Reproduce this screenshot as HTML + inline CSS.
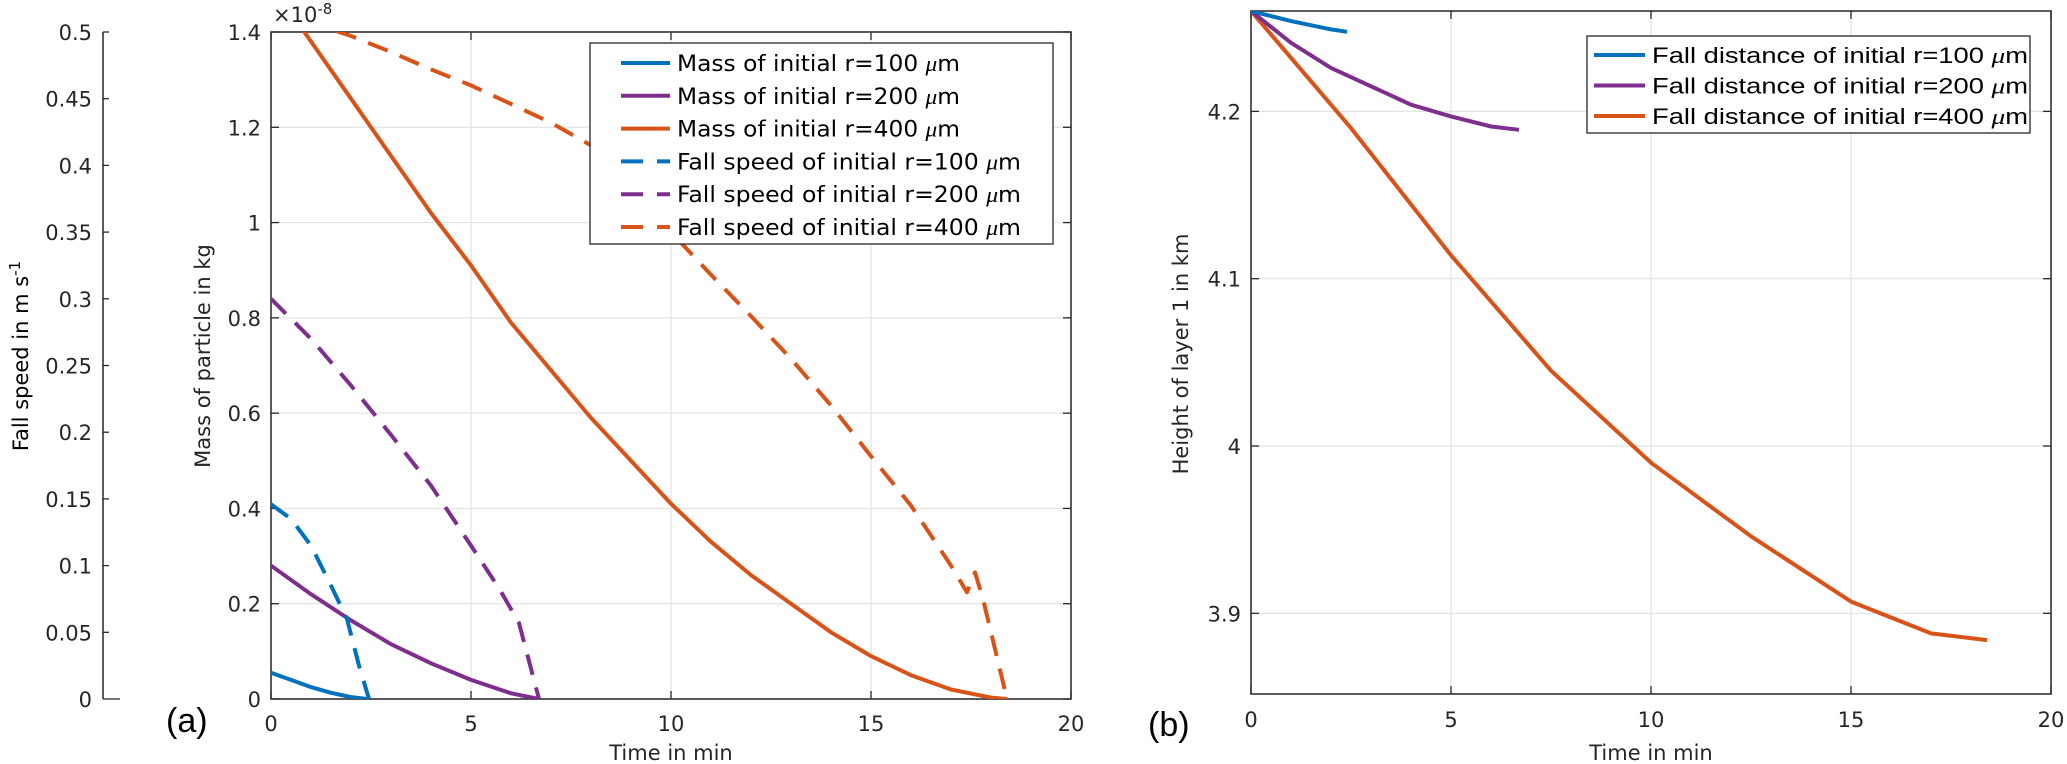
<!DOCTYPE html>
<html><head><meta charset="utf-8"><style>
html,body{margin:0;padding:0;background:#fff;}
svg{display:block;font-family:"DejaVu Sans","Liberation Sans",sans-serif;}
</style></head><body>
<svg id="fig" width="2067" height="764" viewBox="0 0 2067 764" xmlns="http://www.w3.org/2000/svg">
<defs>
<clipPath id="clipA"><rect x="271" y="32" width="800" height="667"/></clipPath>
<clipPath id="clipB"><rect x="1251" y="11" width="800" height="683"/></clipPath>
</defs>
<g id="panelA"></g>
<g id="panelB"></g>
</svg>
<script>
// ---- Panel (a) data ----
const tM100 = [0, 0.5, 1, 1.5, 2, 2.4];
const mass100 = [0.055, 0.04, 0.025, 0.013, 0.004, 0];
const tM200 = [0, 1, 2, 3, 4, 5, 6, 6.7];
const mass200 = [0.28, 0.22, 0.165, 0.115, 0.075, 0.04, 0.012, 0];
const tM400 = [0, 1, 2, 3, 4, 5, 6, 7, 8, 9, 10, 11, 12, 13, 14, 15, 16, 17, 18, 18.4];
const mass400 = [1.50, 1.38, 1.26, 1.14, 1.02, 0.91, 0.79, 0.69, 0.59, 0.50, 0.41, 0.33, 0.26, 0.20, 0.14, 0.09, 0.05, 0.02, 0.003, 0];
const tV100 = [0, 0.5, 1, 1.5, 1.9, 2.2, 2.45];
const speed100 = [0.146, 0.135, 0.115, 0.085, 0.06, 0.025, 0];
const tV200 = [0, 1, 2, 3, 4, 5, 5.7, 6.2, 6.7];
const speed200 = [0.30, 0.27, 0.235, 0.198, 0.16, 0.115, 0.083, 0.057, 0];
const tV400 = [0, 1, 2, 3, 4, 5, 6, 7, 8, 9, 10, 11, 12, 13, 14, 15, 16, 17, 17.4, 17.6, 17.8, 18.4];
const speed400 = [0.515, 0.507, 0.497, 0.485, 0.472, 0.46, 0.446, 0.432, 0.415, 0.385, 0.35, 0.318, 0.287, 0.255, 0.22, 0.182, 0.145, 0.10, 0.08, 0.095, 0.075, 0];
const xTicksA = [0, 5, 10, 15, 20];
const massTicks = [0, 0.2, 0.4, 0.6, 0.8, 1, 1.2, 1.4];
const speedTicks = [0, 0.05, 0.1, 0.15, 0.2, 0.25, 0.3, 0.35, 0.4, 0.45, 0.5];
const speedTickLabels = ["0", "0.05", "0.1", "0.15", "0.2", "0.25", "0.3", "0.35", "0.4", "0.45", "0.5"];
// ---- Panel (b) data ----
const tH100 = [0, 1, 2, 2.4];
const height100 = [4.26, 4.254, 4.249, 4.2476];
const tH200 = [0, 1, 2, 3, 4, 5, 6, 6.7];
const height200 = [4.26, 4.241, 4.226, 4.215, 4.204, 4.197, 4.191, 4.189];
const tH400 = [0, 2.5, 5, 7.5, 10, 12.5, 15, 17, 18.4];
const height400 = [4.26, 4.19, 4.114, 4.045, 3.99, 3.946, 3.907, 3.888, 3.884];
const xTicksB = [0, 5, 10, 15, 20];
const heightTicks = [3.9, 4.0, 4.1, 4.2];
const heightTickLabels = ["3.9", "4", "4.1", "4.2"];

const NS = "http://www.w3.org/2000/svg";
const C = {blue:"#0072BD", purple:"#7E2F8E", orange:"#D95319", ax:"#262626", grid:"#e3e3e3"};
function mk(tag, attrs, parent, text){
  const e = document.createElementNS(NS, tag);
  for (const k in attrs) e.setAttribute(k, attrs[k]);
  if (text !== undefined) e.textContent = text;
  parent.appendChild(e); return e;
}
const xA = t => 271 + t * 40;
const yMass = m => 699 - m * (667 / 1.4);
const ySpeed = v => 699 - v * (667 / 0.5);
const xB = t => 1251 + t * 40;
const yH = h => 446 - (h - 4.0) * 1673;

function pathD(xs, ys, fx, fy){
  return xs.map((x,i)=>(i?"L":"M")+fx(x).toFixed(1)+","+fy(ys[i]).toFixed(1)).join(" ");
}

const A = document.getElementById("panelA");
const B = document.getElementById("panelB");

// ---------- Panel A ----------
xTicksA.forEach(t=>{
  const g = mk("line",{x1:xA(t),x2:xA(t),y1:32,y2:699,stroke:C.grid,"stroke-width":1.2},A);
  
  
  const tk = mk("line",{x1:xA(t),x2:xA(t),y1:699,y2:691,stroke:C.ax,"stroke-width":1.3},A);
  
  
  const tk2 = mk("line",{x1:xA(t),x2:xA(t),y1:32,y2:40,stroke:C.ax,"stroke-width":1.3},A);
  
  
  const lb = mk("text",{x:xA(t),y:731,"text-anchor":"middle","font-size":21,fill:C.ax},A,String(t));
  
  
});
massTicks.forEach(m=>{
  const g = mk("line",{x1:271,x2:1071,y1:yMass(m),y2:yMass(m),stroke:C.grid,"stroke-width":1.2},A);
  
  
  const tk = mk("line",{x1:271,x2:279,y1:yMass(m),y2:yMass(m),stroke:C.ax,"stroke-width":1.3},A);
  
  
  const tk2 = mk("line",{x1:1063,x2:1071,y1:yMass(m),y2:yMass(m),stroke:C.ax,"stroke-width":1.3},A);
  
  
  const lb = mk("text",{x:261,y:yMass(m)+8,"text-anchor":"end","font-size":21,fill:C.ax},A,(m===0||m===1)?String(m):m.toFixed(1));
  
  
});
const boxA = mk("rect",{x:271,y:32,width:800,height:667,fill:"none",stroke:C.ax,"stroke-width":1.5},A);


const sAx = mk("line",{x1:103,x2:103,y1:32,y2:699,stroke:C.ax,"stroke-width":1.5},A);


speedTicks.forEach((v,i)=>{
  const tk = mk("line",{x1:103,x2:i===0?120:109,y1:ySpeed(v),y2:ySpeed(v),stroke:C.ax,"stroke-width":1.3},A);
  
  
  const lb = mk("text",{x:92,y:ySpeed(v)+8,"text-anchor":"end","font-size":21,fill:C.ax},A,speedTickLabels[i]);
  
  
});
const exp = mk("text",{x:273,y:22,"font-size":21,fill:C.ax},A);


exp.innerHTML = '×10<tspan dy="-8" font-size="15">-8</tspan>';

const seriesA = mk("g",{"clip-path":"url(#clipA)","fill":"none","stroke-width":4,"stroke-linejoin":"round"},A);


[[tM100,mass100,C.blue,"mass-r100"],[tM200,mass200,C.purple,"mass-r200"],[tM400,mass400,C.orange,"mass-r400"]].forEach(s=>{
  const p = mk("path",{d:pathD(s[0],s[1],xA,yMass),stroke:s[2]},seriesA);
  
  
});
[[tV100,speed100,C.blue,"speed-r100"],[tV200,speed200,C.purple,"speed-r200"],[tV400,speed400,C.orange,"speed-r400"]].forEach(s=>{
  const p = mk("path",{d:pathD(s[0],s[1],xA,ySpeed),stroke:s[2],"stroke-dasharray":"21 13"},seriesA);
  
  
});
const legA = mk("g",{},A);


mk("rect",{x:590,y:43,width:463,height:201,fill:"#fff",stroke:C.ax,"stroke-width":1.3},legA);
const legAItems = [["Mass of initial r=100 ",C.blue,false,283],["Mass of initial r=200 ",C.purple,false,283],["Mass of initial r=400 ",C.orange,false,283],
  ["Fall speed of initial r=100 ",C.blue,true,344],["Fall speed of initial r=200 ",C.purple,true,344],["Fall speed of initial r=400 ",C.orange,true,344]];
legAItems.forEach((it,i)=>{
  const y = 63 + i*32.8;
  const ln = mk("line",{x1:621,x2:670,y1:y,y2:y,stroke:it[1],"stroke-width":4,"stroke-dasharray":it[2]?"22 14":"none"},legA);
  
  
  const tx = mk("text",{x:677,y:y+8,"font-size":22,fill:"#000",textLength:it[3],lengthAdjust:"spacingAndGlyphs"},legA);
  
  
  tx.innerHTML = it[0]+'<tspan font-style="italic" font-family="Liberation Serif, serif">μ</tspan>m';
});
const xlA = mk("text",{x:671,y:760,"text-anchor":"middle","font-size":21,fill:C.ax},A,"Time in min");


const ylM = mk("text",{x:0,y:0,"text-anchor":"middle","font-size":21,fill:C.ax,transform:"translate(210,356) rotate(-90)"},A,"Mass of particle in kg");


const ylS = mk("text",{x:0,y:0,"text-anchor":"middle","font-size":21,fill:"#000",transform:"translate(28,356) rotate(-90)"},A);


ylS.innerHTML='Fall speed in m s<tspan dy="-8" font-size="15">-1</tspan>';
const la = mk("text",{x:166,y:732,"font-size":34,fill:"#000","font-family":"Liberation Sans, sans-serif"},A,"(a)");



// ---------- Panel B ----------
xTicksB.forEach(t=>{
  const g = mk("line",{x1:xB(t),x2:xB(t),y1:11,y2:694,stroke:C.grid,"stroke-width":1.2},B);
  
  
  const tk = mk("line",{x1:xB(t),x2:xB(t),y1:694,y2:686,stroke:C.ax,"stroke-width":1.3},B);
  
  
  const tk2 = mk("line",{x1:xB(t),x2:xB(t),y1:11,y2:19,stroke:C.ax,"stroke-width":1.3},B);
  
  
  const lb = mk("text",{x:xB(t),y:727,"text-anchor":"middle","font-size":21,fill:C.ax},B,String(t));
  
  
});
heightTicks.forEach((h,i)=>{
  const g = mk("line",{x1:1251,x2:2051,y1:yH(h),y2:yH(h),stroke:C.grid,"stroke-width":1.2},B);
  
  
  const tk = mk("line",{x1:1251,x2:1259,y1:yH(h),y2:yH(h),stroke:C.ax,"stroke-width":1.3},B);
  
  
  const tk2 = mk("line",{x1:2043,x2:2051,y1:yH(h),y2:yH(h),stroke:C.ax,"stroke-width":1.3},B);
  
  
  const lb = mk("text",{x:1241,y:yH(h)+8,"text-anchor":"end","font-size":21,fill:C.ax},B,heightTickLabels[i]);
  
  
});
const boxB = mk("rect",{x:1251,y:11,width:800,height:683,fill:"none",stroke:C.ax,"stroke-width":1.5},B);


const seriesB = mk("g",{"clip-path":"url(#clipB)","fill":"none","stroke-width":4,"stroke-linejoin":"round"},B);


[[tH400,height400,C.orange,"height-r400"],[tH200,height200,C.purple,"height-r200"],[tH100,height100,C.blue,"height-r100"]].forEach(s=>{
  const p = mk("path",{d:pathD(s[0],s[1],xB,yH),stroke:s[2]},seriesB);
  
  
});
const legB = mk("g",{},B);


mk("rect",{x:1587,y:36,width:443,height:97,fill:"#fff",stroke:C.ax,"stroke-width":1.3},legB);
[["Fall distance of initial r=100 ",C.blue],["Fall distance of initial r=200 ",C.purple],["Fall distance of initial r=400 ",C.orange]].forEach((it,i)=>{
  const y = 55 + i*30.5;
  const ln = mk("line",{x1:1594,x2:1645,y1:y,y2:y,stroke:it[1],"stroke-width":4},legB);
  
  
  const tx = mk("text",{x:1652,y:y+8,"font-size":22,fill:"#000","font-family":"Liberation Sans, sans-serif",textLength:376,lengthAdjust:"spacingAndGlyphs"},legB);
  
  
  tx.innerHTML = it[0]+'<tspan font-style="italic" font-family="Liberation Serif, serif">μ</tspan>m';
});
const xlB = mk("text",{x:1651,y:760,"text-anchor":"middle","font-size":21,fill:C.ax},B,"Time in min");


const ylH = mk("text",{x:0,y:0,"text-anchor":"middle","font-size":21,fill:C.ax,transform:"translate(1188,354) rotate(-90)"},B,"Height of layer 1 in km");


const lbB = mk("text",{x:1148,y:736,"font-size":34,fill:"#000","font-family":"Liberation Sans, sans-serif"},B,"(b)");


</script>
</body></html>
